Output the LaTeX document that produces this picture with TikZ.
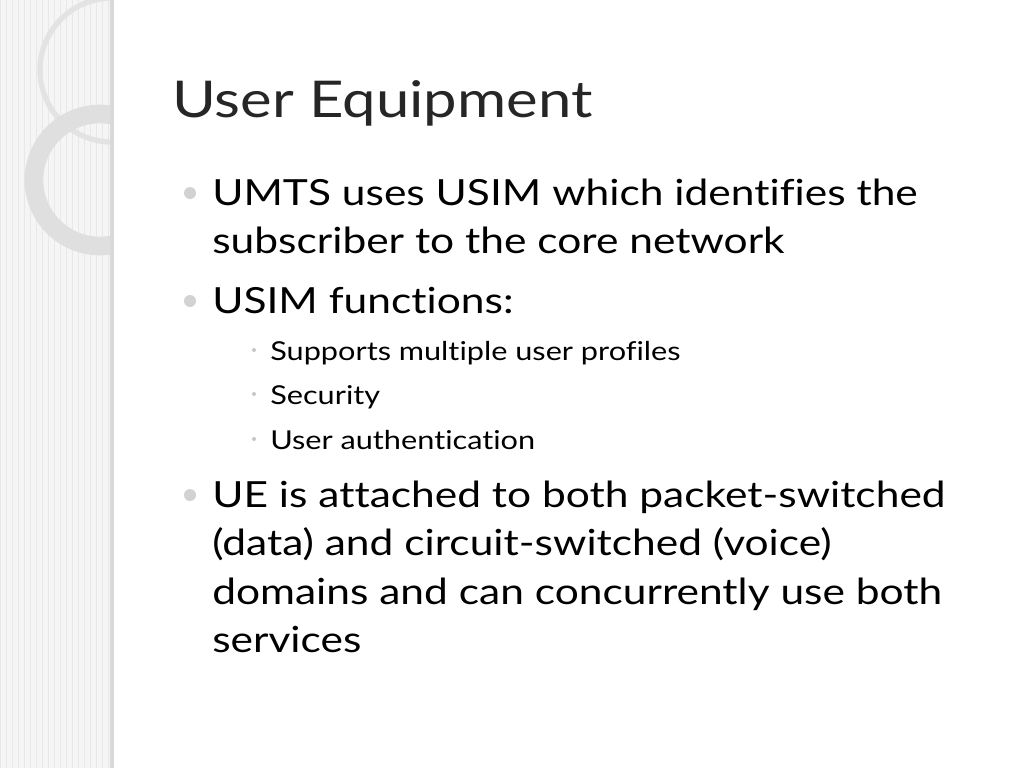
\documentclass[tikz,border=0pt]{standalone}
\usepackage{fontspec}
\setmainfont[FakeStretch=1.18,Ligatures={NoCommon,NoRequired,NoContextual}]{Lato}
\begin{document}
\begin{tikzpicture}[x=0.75pt,y=-0.75pt,
  main/.style={anchor=base west,inner sep=0,font=\fontsize{27}{30}\selectfont},
  sub/.style={anchor=base west,inner sep=0,font=\fontsize{19.5}{22}\selectfont},
  bul/.style={circle,fill=gray!35,inner sep=0,minimum size=9pt},
  sbul/.style={circle,fill=gray!45,inner sep=0,minimum size=3pt}]
\useasboundingbox (0,0) rectangle (1024,768);
\fill[white] (0,0) rectangle (1024,768);
\fill[gray!8] (0,0) rectangle (112,768);
\draw[gray!18,line width=0.4pt,step=6] (0,0) grid (112,768);
\begin{scope}
\clip (0,0) rectangle (111,768);
\draw[gray!22,line width=4pt] (112,70) circle (72);
\draw[gray!25,line width=14pt] (100,180) circle (66);
\end{scope}
\fill[gray!30] (110,0) rectangle (114,768);
\node[anchor=base west,inner sep=0,font=\fontsize{38}{42}\selectfont,text=black!85] (title) at (172,117) {User Equipment};
\node[bul] (b1) at (190,193) {};
\node[main] (l1) at (212,205) {UMTS uses USIM which identifies the};
\node[main] (l2) at (212,253) {subscriber to the core network};
\node[bul] (b2) at (190,301) {};
\node[main] (l3) at (212,313) {USIM functions:};
\node[sbul] (s1) at (254,350) {};
\node[sub] (l4) at (270,360) {Supports multiple user profiles};
\node[sbul] (s2) at (254,394) {};
\node[sub] (l5) at (270,404) {Security};
\node[sbul] (s3) at (254,439) {};
\node[sub] (l6) at (270,449) {User authentication};
\node[bul] (b3) at (190,495) {};
\node[main] (l7) at (212,507) {UE is attached to both packet-switched};
\node[main] (l8) at (212,555) {(data) and circuit-switched (voice)};
\node[main] (l9) at (212,604) {domains and can concurrently use both};
\node[main] (l10) at (212,652) {services};
\end{tikzpicture}
\end{document}
